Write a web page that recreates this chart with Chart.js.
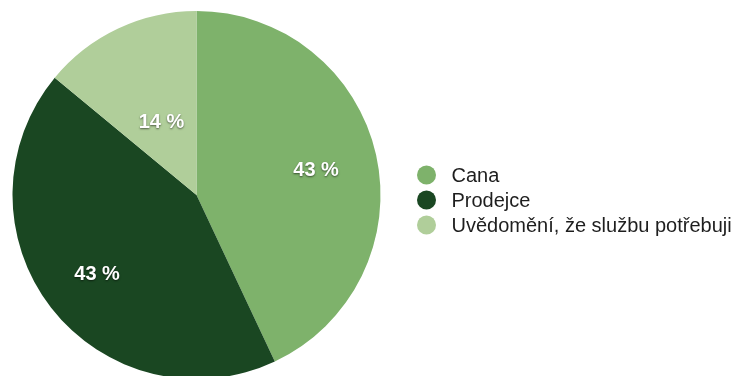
<!DOCTYPE html>
<html>
<head>
<meta charset="utf-8">
<script src="https://cdn.jsdelivr.net/npm/chart.js@4.4.1/dist/chart.umd.min.js"></script>
<style>
	html, body {
		margin: 0;
		padding: 0;
		background: #ffffff;
		overflow: hidden;
	}
	#wrap {
		position: relative;
		width: 748px;
		height: 376px;
	}
</style>
</head>
<body>
<div id="wrap"><canvas id="chart" width="748" height="376"></canvas></div>
<script>
const categories = ['Cana', 'Prodejce', 'Uvědomění, že službu potřebuji'];
const shares = [43, 43, 14];
const sliceColors = ['#7eb26b', '#1a4722', '#b0ce9a'];

// how far out from the centre each percentage label sits (fraction of radius)
const labelRadius = [0.666, 0.684, 0.447];

const FONT = '"Liberation Sans", Arial, Helvetica, sans-serif';

const sliceLabels = {
	id: 'sliceLabels',
	afterDatasetsDraw(chart) {
		const ctx = chart.ctx;
		const meta = chart.getDatasetMeta(0);
		const values = chart.data.datasets[0].data;

		ctx.save();
		ctx.font = 'bold 20px ' + FONT;
		ctx.textAlign = 'center';
		ctx.textBaseline = 'middle';
		ctx.fillStyle = '#ffffff';
		ctx.shadowColor = 'rgba(0, 0, 0, 0.55)';
		ctx.shadowOffsetX = 0;
		ctx.shadowOffsetY = 1;
		ctx.shadowBlur = 2;

		meta.data.forEach((arc, i) => {
			const p = arc.getProps(['x', 'y', 'startAngle', 'endAngle', 'outerRadius'], true);
			const mid = (p.startAngle + p.endAngle) / 2;
			const r = p.outerRadius * labelRadius[i];
			ctx.fillText(String(values[i]) + ' %', p.x + Math.cos(mid) * r, p.y + Math.sin(mid) * r + 2);
		});

		ctx.restore();
	}
};

const sideLegend = {
	id: 'sideLegend',
	afterDraw(chart, args, opts) {
		const ctx = chart.ctx;
		const colors = chart.data.datasets[0].backgroundColor;

		ctx.save();
		ctx.font = '20px ' + FONT;
		ctx.textAlign = 'left';
		ctx.textBaseline = 'middle';

		chart.data.labels.forEach((label, i) => {
			const y = opts.top + i * opts.rowHeight;
			ctx.fillStyle = colors[i];
			ctx.beginPath();
			ctx.arc(opts.left, y, opts.dot, 0, Math.PI * 2);
			ctx.fill();
			ctx.fillStyle = '#1e1e1e';
			ctx.fillText(label, opts.left + 25, y + 1);
		});

		ctx.restore();
	}
};

new Chart(document.getElementById('chart').getContext('2d'), {
	type: 'pie',
	data: {
		labels: categories,
		datasets: [{
			data: shares,
			backgroundColor: sliceColors,
			borderWidth: 0,
			radius: 184
		}]
	},
	options: {
		responsive: false,
		animation: false,
		layout: {
			padding: { top: 14, right: 355, bottom: 0, left: 0 }
		},
		plugins: {
			legend: { display: false },
			tooltip: { enabled: false },
			sideLegend: { left: 426.5, top: 175, rowHeight: 25, dot: 9.5 }
		}
	},
	plugins: [sliceLabels, sideLegend]
});
</script>
</body>
</html>
